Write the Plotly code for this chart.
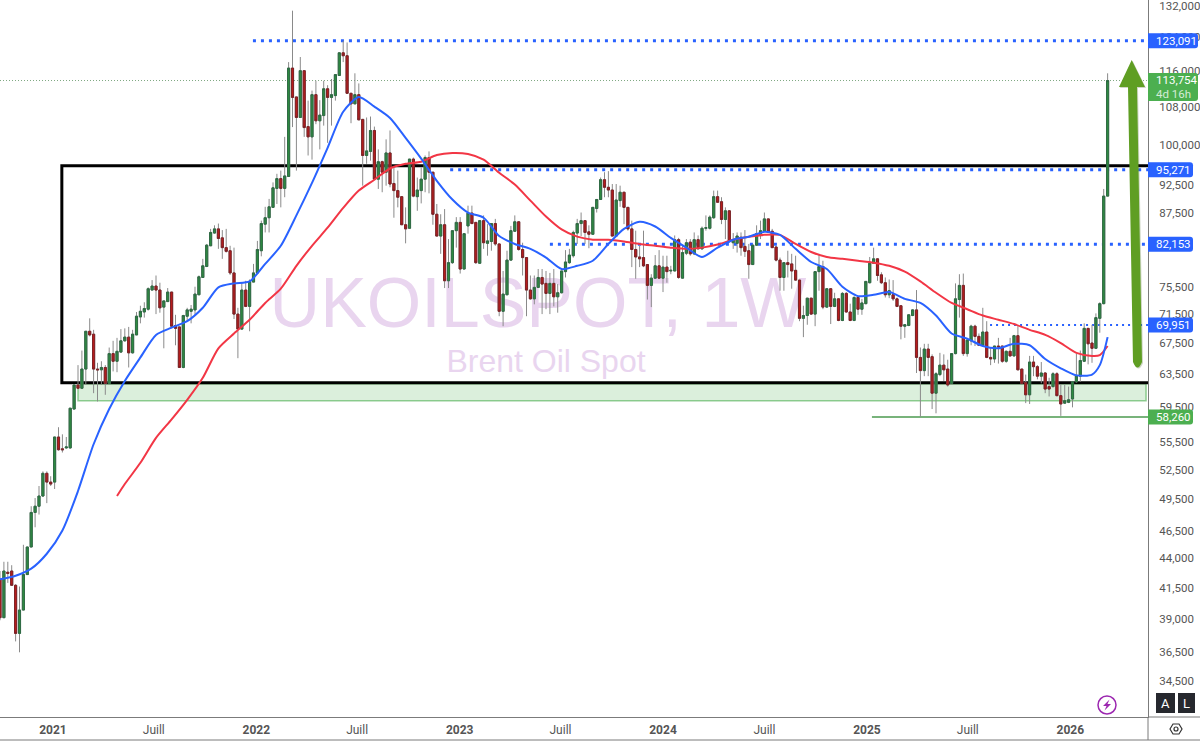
import numpy as np
import pandas as pd
import plotly.graph_objects as go

# Brent weekly candles (thousands)
opens = [42.2,39.1,42.8,42.9,41.7,37.9,39.7,42.6,45.0,48.2,
48.8,49.8,52.1,51.2,51.2,56.0,54.7,54.8,54.8,59.2,
62.1,61.7,64.1,69.1,68.7,64.1,64.0,64.3,62.3,66.1,
65.1,66.3,67.8,68.3,66.2,68.6,71.1,71.8,72.2,75.0,
75.6,75.0,72.5,73.3,74.7,69.9,69.7,64.3,71.2,71.9,
72.1,74.3,76.9,78.6,81.9,84.0,84.7,83.2,81.6,81.1,
77.6,71.5,69.4,75.0,72.6,76.2,77.6,81.1,85.5,86.6,
88.4,91.8,93.6,91.8,94.0,116.6,110.1,105.7,116.0,103.8,
101.7,110.6,105.0,106.1,111.9,110.0,110.4,114.9,120.2,119.5,
110.9,108.6,110.6,105.3,98.0,98.8,103.0,93.5,96.8,94.8,
98.5,92.7,91.4,90.3,85.4,84.8,97.3,90.3,91.4,93.5,
97.6,94.8,87.2,83.5,85.4,76.4,79.2,84.4,85.8,78.2,
85.2,87.4,85.8,79.1,86.1,82.3,82.6,85.6,82.2,71.9,
74.3,79.6,84.3,85.9,81.3,80.0,75.0,73.7,75.4,76.9,
76.0,74.5,76.0,74.0,74.6,77.8,79.2,80.3,84.0,85.6,
86.1,84.2,83.8,88.2,89.8,93.4,92.0,91.5,83.5,89.6,
91.1,88.4,84.7,81.3,80.1,80.0,78.9,75.7,76.8,78.7,
76.8,78.5,77.9,77.9,82.9,76.8,80.7,82.5,80.6,82.9,
81.4,84.8,84.8,86.6,90.3,89.4,86.3,87.8,82.4,82.3,
83.3,81.8,81.1,78.9,82.0,83.7,84.3,86.4,84.3,81.7,
79.6,76.9,79.2,79.0,78.0,76.5,70.9,71.3,73.8,71.5,
77.8,78.6,72.5,75.2,72.6,73.7,70.6,74.5,71.8,70.6,
73.9,72.2,73.0,76.1,79.1,79.8,77.3,76.1,74.3,74.3,
73.7,72.7,69.8,69.9,71.3,72.1,65.6,63.9,66.7,65.7,
61.1,63.4,64.6,64.1,62.3,66.1,73.6,75.7,66.1,67.8,
69.8,68.4,67.2,69.0,65.6,65.4,67.1,67.1,65.1,66.4,
65.8,68.5,64.1,62.4,60.9,65.0,64.4,63.2,63.6,61.9,
61.9,63.5,60.8,59.9,60.0,60.4,62.5,63.2,65.1,69.5,
67.5,66.8,70.9,73.0,90.4]

closes = [39.1,42.9,42.7,41.7,37.9,39.7,42.6,45.0,48.2,48.8,
49.8,52.1,51.2,51.0,56.0,54.6,54.6,54.9,59.3,62.1,
61.7,64.1,69.1,68.6,64.1,64.0,64.3,62.3,66.1,65.1,
66.4,67.8,68.3,66.2,68.7,71.2,71.9,72.3,75.2,75.6,
75.0,72.4,73.4,74.7,69.8,69.5,64.3,71.3,72.1,72.2,
74.4,77.0,78.7,82.0,84.1,84.7,83.1,81.6,81.0,77.6,
71.5,69.4,75.0,72.6,76.3,77.6,81.3,85.6,86.6,88.5,
91.9,93.6,91.8,94.1,116.6,110.0,105.7,116.0,103.6,101.7,
110.6,105.0,106.2,111.9,110.0,110.6,115.1,120.2,119.5,110.9,
108.6,110.6,105.2,98.0,98.9,103.0,93.5,96.8,94.8,98.5,
92.6,91.4,90.2,85.4,84.7,97.3,90.4,91.5,93.5,97.6,
94.8,87.2,83.5,85.4,76.4,79.2,84.4,85.8,78.2,83.9,
87.4,85.6,79.2,86.1,82.4,82.7,85.6,82.2,71.9,74.4,
79.6,84.4,85.9,81.3,80.0,75.0,73.7,75.4,76.9,75.9,
74.5,76.0,74.0,74.6,77.9,79.3,80.4,84.1,85.6,86.1,
84.1,83.8,88.4,89.8,93.4,92.0,91.5,83.5,89.7,91.1,
88.4,84.7,81.3,80.1,79.8,78.7,75.7,76.8,78.7,76.8,
78.5,77.8,78.0,82.9,76.9,80.8,82.4,80.6,82.9,81.4,
84.8,84.9,86.7,90.3,89.3,86.3,87.8,82.7,82.9,83.5,
81.6,81.0,78.9,82.0,83.9,84.4,86.4,84.1,81.6,79.6,
76.9,79.2,78.9,77.9,76.5,70.9,71.3,73.8,71.5,77.8,
78.6,72.5,75.2,72.6,73.7,70.6,74.5,71.8,70.6,73.9,
72.2,73.1,76.3,79.1,79.8,77.2,76.1,74.3,74.9,73.7,
72.6,69.8,70.0,71.4,72.1,65.6,63.9,66.7,65.6,61.1,
63.5,64.6,64.0,62.1,66.1,73.7,75.7,66.1,67.9,69.8,
68.4,67.2,69.0,65.6,65.4,67.1,67.0,65.1,66.4,65.8,
68.5,64.0,62.3,60.9,65.0,64.4,63.2,63.6,61.6,61.6,
63.5,60.8,59.8,60.2,60.3,62.5,63.3,65.2,69.5,67.4,
66.8,71.0,73.0,90.4,113.754]

highs = [42.9,43.7,43.7,43.4,41.8,41.6,45.2,45.0,48.8,49.6,
50.8,52.3,52.3,51.8,56.0,57.1,56.3,56.0,59.3,62.2,
64.6,66.5,69.1,70.9,69.3,64.9,65.1,64.6,66.9,67.8,
68.2,69.4,69.5,69.7,69.3,71.8,72.7,73.2,75.4,76.5,
77.2,76.1,73.4,75.3,74.7,71.4,69.7,71.4,72.4,72.8,
75.5,77.2,79.8,82.2,84.7,85.3,85.6,84.5,84.7,81.9,
81.6,72.4,76.1,76.4,76.6,79.0,82.7,86.1,88.5,89.9,
92.9,94.5,95.1,101.7,118.0,130.7,110.1,119.2,116.0,109.3,
111.5,113.7,109.4,113.7,112.7,114.1,115.1,120.2,123.1,122.7,
111.0,115.4,113.1,105.3,105.7,105.9,103.8,99.2,97.0,101.2,
103.0,96.0,95.1,90.3,88.4,97.3,97.6,93.8,95.7,98.0,
98.8,94.8,89.0,87.2,88.1,83.0,84.4,86.7,86.7,83.9,
88.7,88.7,85.8,86.1,87.0,85.5,85.6,86.4,82.2,77.9,
81.1,85.2,87.0,86.0,82.4,80.0,77.2,77.2,78.2,78.2,
77.9,77.6,78.2,75.9,77.9,81.2,81.4,84.4,86.4,87.5,
86.1,85.3,88.4,89.8,93.8,94.8,95.0,92.6,92.6,92.3,
91.1,88.4,86.1,84.4,81.9,84.4,78.9,77.4,80.4,81.2,
80.3,80.3,78.7,83.6,83.2,81.9,83.0,83.0,84.1,83.6,
85.1,87.0,87.0,91.4,91.4,90.2,88.4,87.8,84.0,84.1,
84.1,84.5,82.2,82.0,85.3,86.1,87.5,86.4,84.7,81.9,
80.0,79.3,81.1,80.6,80.3,76.5,72.7,73.8,73.8,77.8,
80.6,79.5,75.3,75.3,74.6,73.7,74.7,74.7,73.0,74.1,
74.1,73.7,76.3,80.1,81.6,79.9,77.7,76.9,76.6,76.5,
73.9,72.7,70.1,71.4,72.2,75.0,66.9,67.4,67.4,66.0,
63.7,66.2,66.0,65.3,66.1,76.0,77.4,77.5,68.1,70.0,
70.0,68.8,72.4,70.5,66.9,67.1,68.2,67.1,66.5,68.2,
68.6,69.8,64.1,63.4,65.8,65.8,64.6,65.0,63.7,63.0,
63.7,63.7,62.2,62.1,61.9,62.6,66.1,66.5,70.2,69.5,
70.0,71.6,73.2,91.7,115.4]

lows = [38.9,39.1,41.9,41.7,37.3,36.5,39.7,42.6,45.0,46.8,
48.0,49.7,49.1,50.8,50.5,54.5,54.3,54.7,54.7,59.2,
61.6,61.6,62.1,68.4,61.1,60.1,62.1,60.9,62.2,63.8,
63.7,66.2,67.7,64.3,66.1,68.6,70.2,71.0,72.0,75.0,
71.5,71.7,66.8,73.3,69.5,67.2,64.3,64.2,70.5,70.2,
71.4,74.3,76.9,78.5,81.9,83.9,81.4,79.8,80.8,77.3,
70.8,65.5,69.3,72.5,69.1,76.2,77.5,80.2,84.1,84.1,
88.3,89.0,88.4,90.2,94.0,103.7,95.1,105.7,101.7,98.0,
97.2,104.3,99.2,104.0,100.5,104.0,109.3,114.9,118.0,110.9,
104.5,108.6,105.2,92.3,96.4,97.0,93.5,91.7,91.1,92.3,
92.0,86.6,88.4,85.4,82.3,84.8,90.2,87.8,89.1,91.1,
90.9,85.4,83.5,80.6,75.3,75.3,79.0,81.6,77.5,78.2,
83.9,85.5,79.0,79.0,81.4,80.3,81.1,81.9,71.2,69.8,
74.3,79.5,84.2,81.1,77.2,71.2,73.6,72.9,75.3,71.5,
72.2,71.5,72.6,71.7,74.5,76.9,79.0,80.0,82.2,83.5,
82.2,81.5,83.7,87.5,89.7,90.2,90.2,83.5,83.5,88.5,
85.5,84.4,78.5,76.7,78.5,78.5,73.6,72.5,76.7,76.7,
74.7,76.1,77.4,77.9,76.7,76.8,80.4,80.3,80.4,81.4,
81.3,84.4,84.6,86.4,89.2,85.5,83.0,82.4,81.4,80.8,
80.3,80.1,76.7,78.9,81.9,83.0,84.2,84.1,81.6,79.4,
74.9,74.9,76.9,75.2,76.4,70.5,68.3,70.0,71.4,69.8,
74.9,72.2,72.4,70.1,72.5,70.5,70.5,71.7,70.5,70.5,
71.4,71.4,72.9,76.0,79.0,76.4,75.9,73.9,73.8,73.4,
72.5,68.0,68.2,69.8,71.2,63.6,58.3,63.2,63.2,59.2,
58.7,63.2,62.6,61.9,62.3,66.0,71.0,65.8,65.7,67.2,
67.1,67.1,67.1,65.5,64.6,64.9,64.8,64.9,64.9,65.7,
65.7,64.0,62.2,59.9,59.8,63.2,62.8,62.3,61.1,60.7,
61.8,60.7,58.4,59.8,59.9,59.4,62.4,62.5,65.0,64.7,
64.9,66.7,68.9,72.9,90.4]

# Moving averages, read every 4 bars
blue_bars = list(range(0, 281, 4)) + [282, 284]
blue_ma = [42.2,42.5,43.1,44.4,46.5,50.3,55.2,59.2,62.6,65.6,
68.6,69.6,70.5,72.4,75.4,76.0,76.3,79.0,81.9,87.0,
92.8,99.5,106.9,110.1,108.0,105.6,101.5,97.4,93.2,89.8,
87.5,86.6,83.5,82.2,81.4,80.0,78.2,78.7,79.5,82.2,
84.7,85.9,85.1,83.2,81.6,80.1,81.6,82.9,83.4,84.2,
83.7,81.4,79.3,78.2,75.5,74.1,74.3,74.7,73.7,73.1,
71.3,68.8,68.1,67.1,66.8,67.4,67.2,65.4,64.2,63.3,
63.4,64.6,68.3]

red_bars = [30] + list(range(32, 281, 4)) + [282, 284]
red_ma = [49.8,51.0,53.2,55.9,58.0,60.3,63.0,66.8,68.8,70.7,
73.1,75.2,78.7,81.9,84.9,88.3,91.4,93.4,95.5,96.4,
96.8,98.1,98.5,98.3,97.2,94.7,92.5,89.6,86.8,84.6,
83.4,82.9,82.9,82.6,82.2,81.9,81.6,81.4,81.6,82.1,
82.9,83.4,83.7,83.7,82.2,80.9,80.1,79.8,79.5,79.2,
78.7,77.8,76.3,74.6,73.1,72.2,71.3,70.7,70.1,69.3,
68.6,67.5,66.2,65.8,65.9,67.1]

tick_prices = [132000,124000,116000,108000,100000,92500,87500,75500,71500,67500,
63500,59500,55500,52500,49500,46500,44000,41500,39000,36500,34500]
time_ticks = ["2021-01-01","2021-07-01","2022-01-01","2022-07-01","2023-01-01","2023-07-01",
"2024-01-01","2024-07-01","2025-01-01","2025-07-01","2026-01-01"]
time_labels = ["<b>2021</b>","Juill","<b>2022</b>","Juill","<b>2023</b>","Juill",
"<b>2024</b>","Juill","<b>2025</b>","Juill","<b>2026</b>"]

dates = pd.date_range(end="2026-03-09", periods=len(opens), freq="7D")
o = np.array(opens) * 1000
c = np.array(closes) * 1000
h = np.array(highs) * 1000
l = np.array(lows) * 1000

W, H = 1200, 741
PLOT_W, PLOT_H = 1148, 717
Y_LOW, Y_HIGH = np.log10(32095), np.log10(133505)

BLUE = "#2962ff"
GREEN = "#4caf50"
AXIS = "#7b7b7b"
TEXT = "#555555"


def px(x):
    return x / PLOT_W


def py(y):
    return 1 - y / PLOT_H


def price_y(p):
    return (np.log10(p) - Y_LOW) / (Y_HIGH - Y_LOW)


fig = go.Figure()

# wicks first, then bodies on top so the wick colour does not outline the body
fig.add_trace(go.Candlestick(
    x=dates, open=o, high=h, low=l, close=c, whiskerwidth=0,
    increasing=dict(line=dict(color="#8a8a8a", width=1), fillcolor="#8a8a8a"),
    decreasing=dict(line=dict(color="#8a8a8a", width=1), fillcolor="#8a8a8a"),
    showlegend=False, hoverinfo="skip"))
fig.add_trace(go.Candlestick(
    x=dates, open=o, close=c, high=np.maximum(o, c), low=np.minimum(o, c), whiskerwidth=0,
    increasing=dict(line=dict(color="#2f6b45", width=1), fillcolor="#2e8b40"),
    decreasing=dict(line=dict(color="#7d2226", width=1), fillcolor="#b71c1c"),
    showlegend=False))

fig.add_trace(go.Scatter(x=dates[red_bars], y=np.array(red_ma) * 1000, mode="lines",
                         line=dict(color="#f23645", width=2, shape="spline", smoothing=0.7),
                         showlegend=False))
fig.add_trace(go.Scatter(x=dates[blue_bars], y=np.array(blue_ma) * 1000, mode="lines",
                         line=dict(color=BLUE, width=2, shape="spline", smoothing=0.7),
                         showlegend=False))

shapes = []
annotations = []

# watermark, under the candles
shapes.append(dict(type="rect", xref="paper", yref="paper", layer="below",
                   x0=px(238), x1=px(838), y0=py(335), y1=py(257), line_width=0,
                   label=dict(text="UKOILSPOT, 1W", textposition="middle center",
                              font=dict(family="Liberation Sans", size=70, color="#e9d5ef"))))
shapes.append(dict(type="rect", xref="paper", yref="paper", layer="below",
                   x0=px(400), x1=px(692), y0=py(379), y1=py(337), line_width=0,
                   label=dict(text="Brent Oil Spot", textposition="middle center",
                              font=dict(family="Liberation Sans", size=32, color="#e9d5ef"))))

# green zone and black box, behind the candles
shapes.append(dict(type="rect", xref="x", yref="y", x0="2021-02-15", x1="2026-05-17", layer="below",
                   y0=60200, y1=62260, fillcolor="rgba(76,175,80,0.2)",
                   line=dict(color="rgba(76,175,80,0.6)", width=1.5)))
shapes.append(dict(type="rect", xref="x", yref="y", x0="2021-01-17", x1="2027-01-01", layer="below",
                   y0=62380, y1=96030, line=dict(color="black", width=3)))

# dotted price levels
for start, level, width, dash in [("2021-12-26", 123091, 3, "3px,5px"),
                                  ("2022-12-15", 95271, 3, "3px,5px"),
                                  ("2023-06-12", 82153, 3, "3px,5px"),
                                  ("2025-08-10", 69951, 2, "2px,4px")]:
    shapes.append(dict(type="line", xref="x", yref="y", x0=start, x1="2026-05-21", layer="below",
                       y0=level, y1=level, line=dict(color=BLUE, width=width, dash=dash)))
shapes.append(dict(type="line", xref="x", yref="y", x0="2025-01-10", x1="2026-05-21", layer="below",
                   y0=58260, y1=58260, line=dict(color="#4b9a4f", width=1.5)))
shapes.append(dict(type="line", xref="paper", yref="y", x0=0, x1=1, y0=113754, y1=113754,
                   layer="below", line=dict(color="#7fa883", width=1, dash="1px,2px")))


# big green arrow with a soft shadow
def arrow_path(dx, dy):
    return (f"M {px(1131.7 + dx)},{py(60 + dy)} L {px(1145 + dx)},{py(87 + dy)} L {px(1137 + dx)},{py(87 + dy)} "
            f"L {px(1142 + dx)},{py(362 + dy)} Q {px(1137.5 + dx)},{py(373 + dy)} {px(1133 + dx)},{py(362 + dy)} "
            f"L {px(1128 + dx)},{py(87 + dy)} L {px(1119 + dx)},{py(87 + dy)} Z")


shapes.append(dict(type="path", xref="paper", yref="paper", path=arrow_path(1, 1),
                   fillcolor="rgba(60,90,20,0.25)", line_width=0))
shapes.append(dict(type="path", xref="paper", yref="paper", path=arrow_path(0, 0),
                   fillcolor="#5f9e23", line_width=0))


# price pills on the axis
def pill(level_y, width, height, color):
    r = 3
    a = height / 2
    path = (f"M 0,{-a} L {width - r},{-a} Q {width},{-a} {width},{-a + r} "
            f"L {width},{a - r} Q {width},{a} {width - r},{a} L 0,{a} Z")
    shapes.append(dict(type="path", xref="paper", yref="paper", xsizemode="pixel",
                       ysizemode="pixel", xanchor=1.0, yanchor=level_y, path=path,
                       fillcolor=color, line_width=0))


def axis_text(y, text, color="white", size=11.5):
    annotations.append(dict(xref="paper", yref="paper", x=px(1154), y=y, text=text,
                            xanchor="left", yanchor="middle", showarrow=False,
                            font=dict(family="Roboto", size=size, color=color)))


for level, label, color, width in [(123091, "123,091", BLUE, 50),
                                   (95271, "95,271", BLUE, 45),
                                   (82153, "82,153", BLUE, 45),
                                   (69951, "69,951", BLUE, 45),
                                   (58260, "58,260", GREEN, 45)]:
    pill(price_y(level), width, 15, color)
    axis_text(price_y(level), label)
pill(py(87), 50, 28, GREEN)
axis_text(py(80.5), "113,754")
axis_text(py(94), "4d 16h", color="#d5ecd6")

# purple flash icon
shapes.append(dict(type="circle", xref="paper", yref="paper", x0=px(1098), x1=px(1116),
                   y0=py(714), y1=py(696), line=dict(color="#9c27b0", width=1.5)))
bolt = (f"M {px(1109.5)},{py(699.5)} L {px(1103)},{py(706)} L {px(1106.5)},{py(706)} "
        f"L {px(1104.5)},{py(710.5)} L {px(1111)},{py(704)} L {px(1107.5)},{py(704)} Z")
shapes.append(dict(type="path", xref="paper", yref="paper", path=bolt,
                   fillcolor="#9c27b0", line_width=0))

# A / L buttons
for x0, x1, letter in [(1156, 1175, "A"), (1178, 1195, "L")]:
    shapes.append(dict(type="rect", xref="paper", yref="paper", x0=px(x0), x1=px(x1),
                       y0=py(713), y1=py(693), fillcolor="#26282e", line_width=0))
    annotations.append(dict(xref="paper", yref="paper", x=px((x0 + x1) / 2), y=py(703),
                            text=letter, showarrow=False, xanchor="center", yanchor="middle",
                            font=dict(family="Roboto", size=13, color="white")))

# settings hexagon in the corner
hexagon = (f"M {px(1170)},{py(729)} L {px(1173)},{py(724)} L {px(1179)},{py(724)} "
           f"L {px(1182)},{py(729)} L {px(1179)},{py(734)} L {px(1173)},{py(734)} Z")
shapes.append(dict(type="path", xref="paper", yref="paper", path=hexagon,
                   line=dict(color="#333333", width=1.2)))
shapes.append(dict(type="circle", xref="paper", yref="paper", x0=px(1174), x1=px(1178),
                   y0=py(731), y1=py(727), line=dict(color="#333333", width=1.2)))

# frame of the scales
shapes.append(dict(type="line", xref="paper", yref="paper", x0=1, x1=1, y0=py(717), y1=py(740),
                   line=dict(color=AXIS, width=1)))
shapes.append(dict(type="line", xref="paper", yref="paper", x0=0, x1=px(W), y0=py(740), y1=py(740),
                   line=dict(color=AXIS, width=1)))
shapes.append(dict(type="line", xref="paper", yref="paper", x0=1, x1=px(W), y0=py(717), y1=py(717),
                   line=dict(color=AXIS, width=1)))

fig.update_layout(
    width=W, height=H,
    margin=dict(l=0, r=W - PLOT_W, t=0, b=H - PLOT_H, autoexpand=False),
    paper_bgcolor="white", plot_bgcolor="white",
    showlegend=False,
    boxgap=0.22,
    shapes=shapes,
    annotations=annotations,
    xaxis=dict(type="date", range=["2020-09-28", "2026-05-20 12:00"], automargin=False,
               rangeslider=dict(visible=False), showgrid=False, zeroline=False,
               showline=True, linecolor=AXIS, linewidth=1,
               tickmode="array", tickvals=time_ticks, ticktext=time_labels, tickangle=0,
               ticks="", ticklabelstandoff=2,
               tickfont=dict(family="Roboto", size=12, color=TEXT)),
    yaxis=dict(type="log", side="right", range=[Y_LOW, Y_HIGH], automargin=False,
               showgrid=False, zeroline=False,
               showline=True, linecolor=AXIS, linewidth=1,
               tickmode="array", tickvals=tick_prices, ticktext=[f"{v:,}" for v in tick_prices],
               ticks="", ticklabelstandoff=8, ticklabeloverflow="allow",
               tickfont=dict(family="Roboto", size=11.5, color=TEXT)),
)

fig.write_html("out.html", config=dict(displayModeBar=False),
               post_script="document.body.style.margin='0';document.body.style.overflow='hidden';")
